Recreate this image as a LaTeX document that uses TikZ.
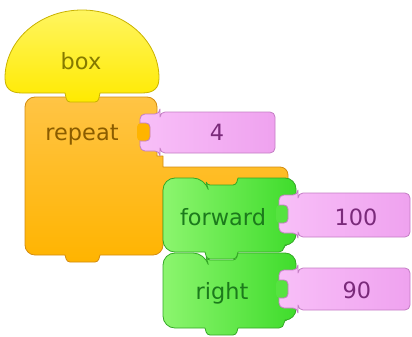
\documentclass[tikz,border=0pt]{standalone}
\usepackage{fontspec}
\setmainfont{DejaVu Sans}
\definecolor{yellowtop}{HTML}{FFF560}
\definecolor{yellowbot}{HTML}{FFEA00}
\definecolor{yellowline}{HTML}{C9B200}
\definecolor{orangetop}{HTML}{FFC445}
\definecolor{orangebot}{HTML}{FFB400}
\definecolor{orangeline}{HTML}{D38C10}
\definecolor{greenleft}{HTML}{8CF56E}
\definecolor{greenright}{HTML}{3FDC2C}
\definecolor{greenline}{HTML}{34A826}
\definecolor{pinkleft}{HTML}{F8BFF8}
\definecolor{pinkright}{HTML}{EFA2EF}
\definecolor{pinkline}{HTML}{C47EC4}
\definecolor{boxtext}{HTML}{857A00}
\definecolor{repeattext}{HTML}{8A5C00}
\definecolor{greentext}{HTML}{1C7A1C}
\definecolor{pinktext}{HTML}{7A2A7A}
\tikzset{
  outl/.style={line width=0.8bp, line join=round},
  yellowblk/.style={outl, draw=yellowline, top color=yellowtop, bottom color=yellowbot},
  orangeblk/.style={outl, draw=orangeline, top color=orangetop, bottom color=orangebot},
  greenblk/.style={outl, draw=greenline, left color=greenleft, right color=greenright},
  pinkblk/.style={outl, draw=pinkline, left color=pinkleft, right color=pinkright},
  lbl/.style={font=\fontsize{22.5}{27}\selectfont, inner sep=0pt, anchor=base},
}
\begin{document}
\begin{tikzpicture}[x=1bp,y=-1bp]
\useasboundingbox (0,0) rectangle (412,337);

% repeat block: C-shaped body with an arm over the nested statements
\path[orangeblk]
  [rounded corners=10] (25,97) -- (157,97)
  [sharp corners] -- (157,156) -- (163,156) -- (163,167)
  [rounded corners=8] -- (288,167) -- (288,190)
  [sharp corners] -- (163,190)
  [rounded corners=10] -- (163,255)
  [sharp corners] -- (100,255)
  [rounded corners=3] -- (98,262) -- (67,262)
  [sharp corners] -- (65,255)
  [rounded corners=10] -- (25,255) -- cycle;

% box hat block
\path[yellowblk]
  (65,93) -- (22,93) .. controls (10,93) and (5,88) .. (5,78)
  arc[start angle=180, end angle=360, x radius=77, y radius=68]
  .. controls (159,88) and (154,93) .. (142,93) -- (100,93)
  [rounded corners=3] -- (98,102) -- (67,102)
  [sharp corners] -- cycle;

% right statement block
\path[greenblk]
  [rounded corners=12] (163,253) -- (205,253)
  [rounded corners=3] -- (207,260) -- (236,260)
  [sharp corners] -- (238,253)
  [rounded corners=11] -- (296,253) -- (296,320)
  [rounded corners=3] -- (284,320)
  [rounded corners=5] -- (284,328)
  [sharp corners] -- (238,328)
  [rounded corners=3] -- (236,335) -- (207,335)
  [sharp corners] -- (205,328)
  [rounded corners=12] -- (163,328) -- cycle;

% forward statement block
\path[greenblk]
  [rounded corners=12] (163,178) -- (205,178)
  [rounded corners=3] -- (207,185) -- (236,185)
  [sharp corners] -- (238,178)
  [rounded corners=11] -- (296,178) -- (296,245)
  [rounded corners=3] -- (284,245)
  [rounded corners=5] -- (284,252)
  [sharp corners] -- (238,252)
  [rounded corners=3] -- (236,259) -- (207,259)
  [sharp corners] -- (205,252)
  [rounded corners=12] -- (163,252) -- cycle;

% number value blocks with their plug tabs
\path[pinkblk, rounded corners=5]
  (160,112) -- (275,112) -- (275,153) -- (160,153) -- (160,151)
  -- (140,151) -- (140,114) -- (160,114) -- cycle;
\path[pinkblk, rounded corners=5]
  (298,193) -- (410,193) -- (410,237) -- (298,237) -- (298,233)
  -- (279,233) -- (279,195) -- (298,195) -- cycle;
\path[pinkblk, rounded corners=5]
  (298,268) -- (410,268) -- (410,310) -- (298,310) -- (298,308)
  -- (279,308) -- (279,270) -- (298,270) -- cycle;

% knobs of the sockets showing through the tabs
\fill[orangebot, rounded corners=4] (137,123) rectangle (150,141);
\draw[outl, draw=pinkline, rounded corners=4] (139.6,123) -- (150,123) -- (150,141) -- (139.6,141);
\fill[greenright!70!greenleft, rounded corners=4] (276,205) rectangle (288,223);
\draw[outl, draw=pinkline, rounded corners=4] (278.6,205) -- (288,205) -- (288,223) -- (278.6,223);
\fill[greenright!70!greenleft, rounded corners=4] (276,280) rectangle (288,298);
\draw[outl, draw=pinkline, rounded corners=4] (278.6,280) -- (288,280) -- (288,298) -- (278.6,298);

% labels
\node[lbl, text=boxtext] (boxlbl) at (81,69) {box};
\node[lbl, text=repeattext] (repeatlbl) at (82,140) {repeat};
\node[lbl, text=pinktext] (fourlbl) at (217,140) {4};
\node[lbl, text=greentext] (forwardlbl) at (223,225) {forward};
\node[lbl, text=pinktext] (hundredlbl) at (356,225) {100};
\node[lbl, text=greentext] (rightlbl) at (222,299) {right};
\node[lbl, text=pinktext] (ninetylbl) at (357,298) {90};
\end{tikzpicture}
\end{document}
